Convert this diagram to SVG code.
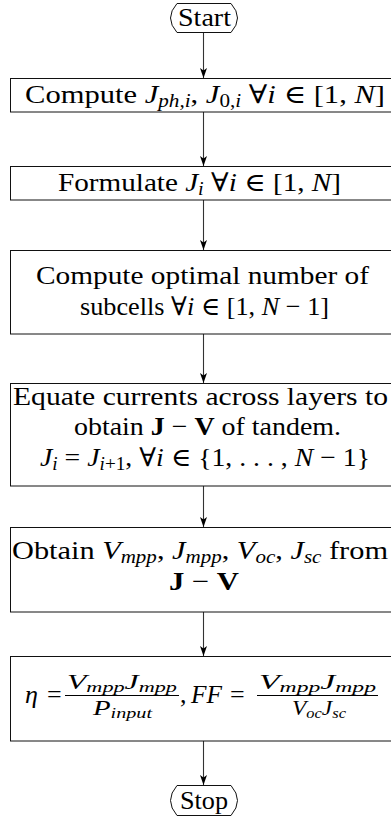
<svg xmlns="http://www.w3.org/2000/svg" width="391" height="821" viewBox="0 0 391 821">
<defs>
<style>
.t{font-family:"Liberation Serif","DejaVu Serif",serif;font-size:26px;fill:#000}
.i{font-style:italic}
.b{font-weight:bold}
.s{font-size:18px}
.ss{font-size:14px}
.fr{font-size:20px}
.node{fill:#fff;stroke:#111;stroke-width:1}
.conn{stroke:#333;stroke-width:1.1;fill:none;marker-end:url(#arr)}
.bar{stroke:#000;stroke-width:1}
</style>
<marker id="arr" viewBox="0 0 10 7" refX="10" refY="3.5" markerWidth="10" markerHeight="7" orient="auto" markerUnits="userSpaceOnUse">
<path d="M0,0 L10,3.5 L0,7 L2.5,3.5 Z" fill="#000"/>
</marker>
</defs>
<rect width="391" height="821" fill="#fff"/>
<g id="connectors">
<line class="conn" x1="203.5" y1="33" x2="203.5" y2="78"/>
<line class="conn" x1="203.5" y1="112" x2="203.5" y2="166"/>
<line class="conn" x1="203.5" y1="200" x2="203.5" y2="250"/>
<line class="conn" x1="203.5" y1="334" x2="203.5" y2="383"/>
<line class="conn" x1="203.5" y1="486" x2="203.5" y2="527"/>
<line class="conn" x1="203.5" y1="612" x2="203.5" y2="656"/>
<line class="conn" x1="203.5" y1="741" x2="203.5" y2="785"/>
</g>
<g id="start">
<path class="node" d="M177,3.5 H231 Q244,18 231,32.5 H177 Q164,18 177,3.5 Z"/>
<text class="t" x="178" y="26" textLength="53" lengthAdjust="spacingAndGlyphs">Start</text>
</g>
<g id="n1">
<rect class="node" x="10.5" y="78.5" width="387" height="33.5"/>
<text class="t" x="25" y="103" textLength="360" lengthAdjust="spacingAndGlyphs">Compute <tspan class="i">J</tspan><tspan class="s i" dy="4">ph,i</tspan><tspan dy="-4">, </tspan><tspan class="i">J</tspan><tspan class="s" dy="4">0,<tspan class="i">i</tspan></tspan><tspan dy="-4"> ∀</tspan><tspan class="i">i</tspan> ∈ [1, <tspan class="i">N</tspan>]</text>
</g>
<g id="n2">
<rect class="node" x="10.5" y="166.5" width="387" height="33.5"/>
<text class="t" x="58" y="191" textLength="283" lengthAdjust="spacingAndGlyphs">Formulate <tspan class="i">J</tspan><tspan class="s i" dy="4">i</tspan><tspan dy="-4"> ∀</tspan><tspan class="i">i</tspan> ∈ [1, <tspan class="i">N</tspan>]</text>
</g>
<g id="n3">
<rect class="node" x="10.5" y="250.5" width="387" height="83.5"/>
<text class="t" x="36" y="284" textLength="333" lengthAdjust="spacingAndGlyphs">Compute optimal number of</text>
<text class="t" x="80" y="315" textLength="249" lengthAdjust="spacingAndGlyphs">subcells ∀<tspan class="i">i</tspan> ∈ [1, <tspan class="i">N</tspan> − 1]</text>
</g>
<g id="n4">
<rect class="node" x="10.5" y="383.5" width="387" height="102.5"/>
<text class="t" x="13" y="405" textLength="375" lengthAdjust="spacingAndGlyphs">Equate currents across layers to</text>
<text class="t" x="74" y="435" textLength="267" lengthAdjust="spacingAndGlyphs">obtain <tspan class="b">J</tspan> − <tspan class="b">V</tspan> of tandem.</text>
<text class="t" x="40" y="466" textLength="330" lengthAdjust="spacingAndGlyphs"><tspan class="i">J</tspan><tspan class="s i" dy="4">i</tspan><tspan dy="-4"> = </tspan><tspan class="i">J</tspan><tspan class="s" dy="4"><tspan class="i">i</tspan>+1</tspan><tspan dy="-4">, ∀</tspan><tspan class="i">i</tspan> ∈ {1, . . . , <tspan class="i">N</tspan> − 1}</text>
</g>
<g id="n5">
<rect class="node" x="10.5" y="527.5" width="387" height="84.5"/>
<text class="t" x="12" y="559" textLength="376" lengthAdjust="spacingAndGlyphs">Obtain <tspan class="i">V</tspan><tspan class="s i" dy="4">mpp</tspan><tspan dy="-4">, </tspan><tspan class="i">J</tspan><tspan class="s i" dy="4">mpp</tspan><tspan dy="-4">, </tspan><tspan class="i">V</tspan><tspan class="s i" dy="4">oc</tspan><tspan dy="-4">, </tspan><tspan class="i">J</tspan><tspan class="s i" dy="4">sc</tspan><tspan dy="-4"> from</tspan></text>
<text class="t" x="169" y="590" textLength="70" lengthAdjust="spacingAndGlyphs"><tspan class="b">J</tspan> − <tspan class="b">V</tspan></text>
</g>
<g id="n6">
<rect class="node" x="10.5" y="656.5" width="387" height="84.5"/>
<text class="t i" x="25" y="703">η</text>
<text class="t" x="47" y="703">=</text>
<text class="t fr" x="67" y="689" textLength="110" lengthAdjust="spacingAndGlyphs"><tspan class="i">V</tspan><tspan class="ss i" dy="3">mpp</tspan><tspan class="i" dy="-3">J</tspan><tspan class="ss i" dy="3">mpp</tspan></text>
<line class="bar" x1="65" y1="695.5" x2="179" y2="695.5"/>
<text class="t fr" x="93" y="715" textLength="59" lengthAdjust="spacingAndGlyphs"><tspan class="i">P</tspan><tspan class="ss i" dy="3">input</tspan></text>
<text class="t" x="180" y="703">,</text>
<text class="t i" x="191" y="703" textLength="31" lengthAdjust="spacingAndGlyphs">FF</text>
<text class="t" x="230" y="703">=</text>
<text class="t fr" x="259" y="689" textLength="117" lengthAdjust="spacingAndGlyphs"><tspan class="i">V</tspan><tspan class="ss i" dy="3">mpp</tspan><tspan class="i" dy="-3">J</tspan><tspan class="ss i" dy="3">mpp</tspan></text>
<line class="bar" x1="257" y1="695.5" x2="378" y2="695.5"/>
<text class="t fr" x="292" y="715" textLength="54" lengthAdjust="spacingAndGlyphs"><tspan class="i">V</tspan><tspan class="ss i" dy="3">oc</tspan><tspan class="i" dy="-3">J</tspan><tspan class="ss i" dy="3">sc</tspan></text>
</g>
<g id="stop">
<path class="node" d="M177,785.5 H231 Q244,800.5 231,815.5 H177 Q164,800.5 177,785.5 Z"/>
<text class="t" x="180" y="809" textLength="48" lengthAdjust="spacingAndGlyphs">Stop</text>
</g>
</svg>
